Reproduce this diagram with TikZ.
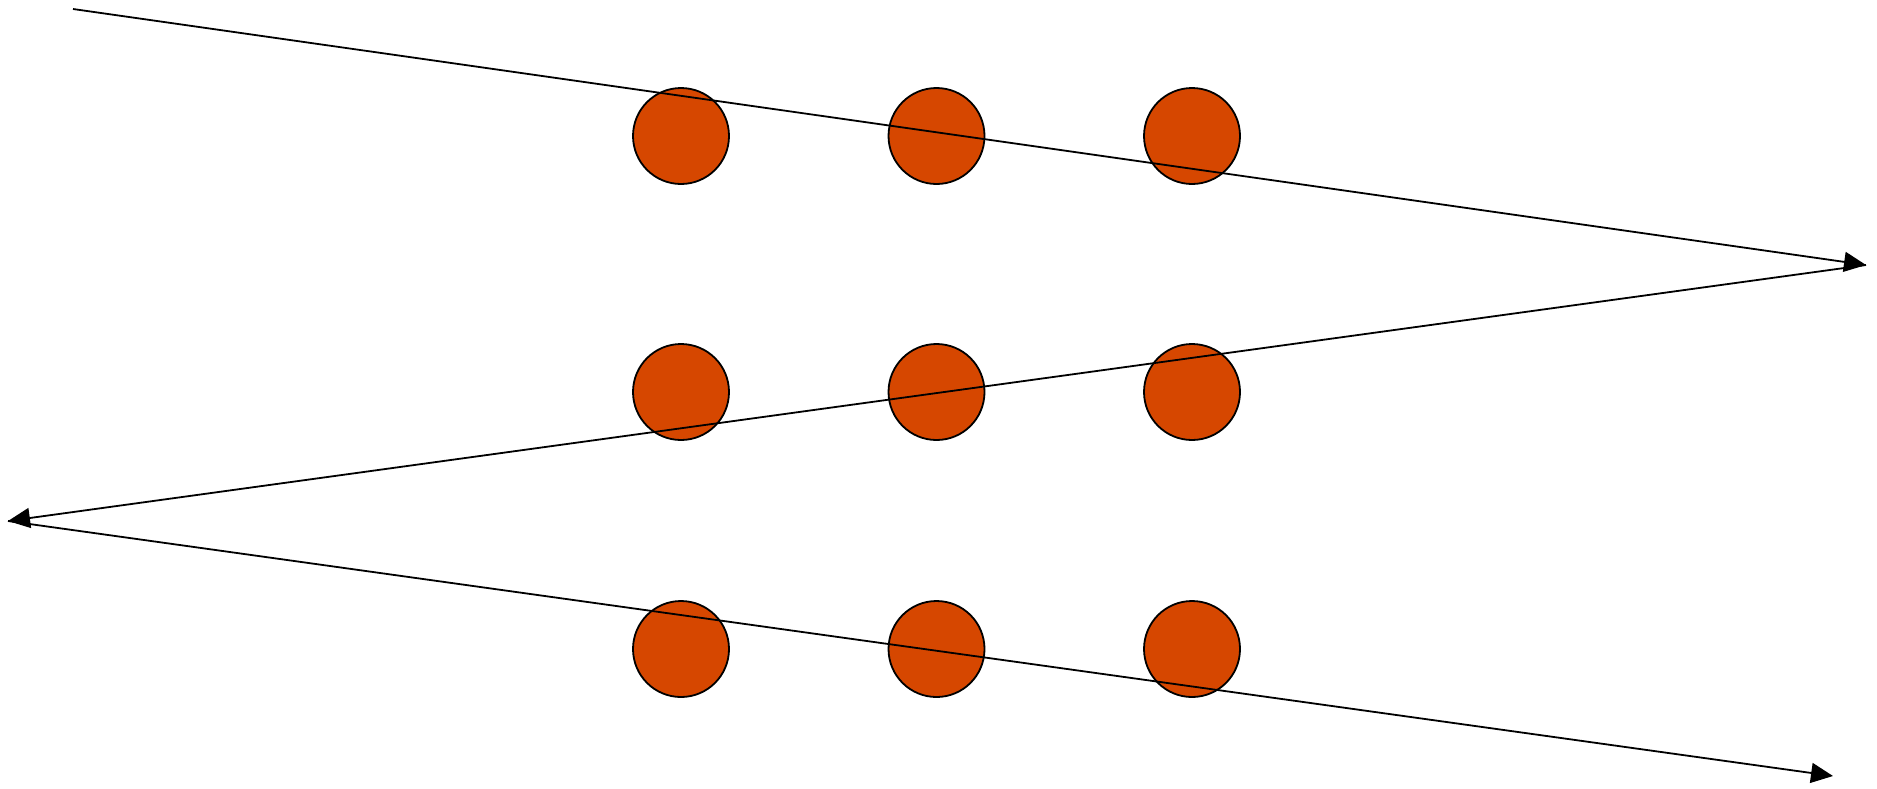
\documentclass[tikz,border=0pt]{standalone}
\usetikzlibrary{arrows.meta}
\definecolor{dotfill}{RGB}{214,71,0}
\begin{document}
\begin{tikzpicture}[x=0.5pt,y=-0.5pt,
  dot/.style={circle,draw=black,line width=0.9pt,fill=dotfill,minimum size=48pt,inner sep=0pt},
  sweep/.style={line width=0.9pt,-{Triangle[length=11pt,width=10pt]}}]
\useasboundingbox (0,0) rectangle (1877,788);
\foreach \r/\y in {1/136,2/392,3/649}{
  \foreach \c/\x in {1/681,2/936.5,3/1192}{
    \node[dot] (d\r\c) at (\x,\y) {};
  }
}
\coordinate (s) at (73,9);
\coordinate (r1) at (1866,265);
\coordinate (l1) at (8,521);
\coordinate (r2) at (1833,776);
\draw[sweep] (s) -- (r1);
\draw[sweep] (r1) -- (l1);
\draw[sweep] (l1) -- (r2);
\end{tikzpicture}
\end{document}
